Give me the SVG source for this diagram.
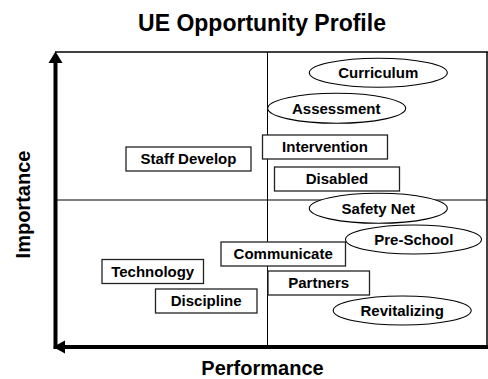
<svg xmlns="http://www.w3.org/2000/svg" width="488" height="379" viewBox="0 0 488 379">
  <style>
    text { font-family: "Liberation Sans", Arial, sans-serif; font-weight: bold; fill: #000; text-anchor: middle; }
    .lbl { font-size: 15px; }
    .box { fill: #fff; stroke: #222; stroke-width: 1.3; }
    .oval { fill: #fff; stroke: #000; stroke-width: 1.1; }
    .axis { stroke: #000; stroke-width: 4; fill: none; }
    .frame { stroke: #000; stroke-width: 1.5; fill: none; }
    .grid { stroke: #000; stroke-width: 1; fill: none; }
  </style>
  <rect width="488" height="379" fill="#fff"/>

  <text x="262" y="31" font-size="23">UE Opportunity Profile</text>

  <!-- chart frame, quadrant dividers and axes -->
  <g id="axes">
    <line class="frame" x1="55" y1="52" x2="488" y2="52"/>
    <line class="frame" x1="487" y1="52" x2="487" y2="347"/>
    <line class="grid" x1="55" y1="200" x2="487" y2="200" stroke="#444"/>
    <line class="grid" x1="267.5" y1="52" x2="267.5" y2="347"/>
    <line class="axis" x1="55.5" y1="349" x2="55.5" y2="62"/>
    <polygon points="55.5,51.5 48.5,63 62.5,63" fill="#000"/>
    <line class="axis" x1="488" y1="347" x2="63" y2="347"/>
    <polygon points="53,347 65,340.5 65,353.5" fill="#000"/>
  </g>

  <text x="262.5" y="375" font-size="20">Performance</text>
  <text transform="translate(30 204.5) rotate(-90)" font-size="20">Importance</text>

  <g id="curriculum">
    <ellipse class="oval" cx="378.3" cy="72.8" rx="69" ry="14.5"/>
    <text class="lbl" x="378.3" y="78.2">Curriculum</text>
  </g>
  <g id="assessment">
    <ellipse class="oval" cx="336.7" cy="108.3" rx="69" ry="15"/>
    <text class="lbl" x="336.2" y="113.7">Assessment</text>
  </g>
  <g id="intervention">
    <rect class="box" x="262.5" y="135" width="125" height="24"/>
    <text class="lbl" x="325" y="152.4">Intervention</text>
  </g>
  <g id="staff-develop">
    <rect class="box" x="126" y="147" width="125" height="24"/>
    <text class="lbl" x="188.5" y="164.4">Staff Develop</text>
  </g>
  <g id="disabled">
    <rect class="box" x="274.5" y="167" width="125" height="24"/>
    <text class="lbl" x="337" y="184.4">Disabled</text>
  </g>
  <g id="safety-net">
    <ellipse class="oval" cx="378.3" cy="208.3" rx="69" ry="15"/>
    <text class="lbl" x="378.3" y="213.7">Safety Net</text>
  </g>
  <g id="communicate">
    <rect class="box" x="221" y="242" width="124.5" height="24"/>
    <text class="lbl" x="283.2" y="259.4">Communicate</text>
  </g>
  <g id="pre-school">
    <ellipse class="oval" cx="413.5" cy="239.5" rx="68" ry="14.5"/>
    <text class="lbl" x="413.8" y="244.9">Pre-School</text>
  </g>
  <g id="technology">
    <rect class="box" x="102" y="259.5" width="101.5" height="24"/>
    <text class="lbl" x="152.7" y="276.9">Technology</text>
  </g>
  <g id="partners">
    <rect class="box" x="268" y="271" width="101.5" height="24"/>
    <text class="lbl" x="318.7" y="288.4">Partners</text>
  </g>
  <g id="discipline">
    <rect class="box" x="155.5" y="289" width="101.5" height="24"/>
    <text class="lbl" x="206.2" y="306.4">Discipline</text>
  </g>
  <g id="revitalizing">
    <ellipse class="oval" cx="402.2" cy="310.5" rx="69" ry="14.5"/>
    <text class="lbl" x="402.2" y="315.9">Revitalizing</text>
  </g>
</svg>
